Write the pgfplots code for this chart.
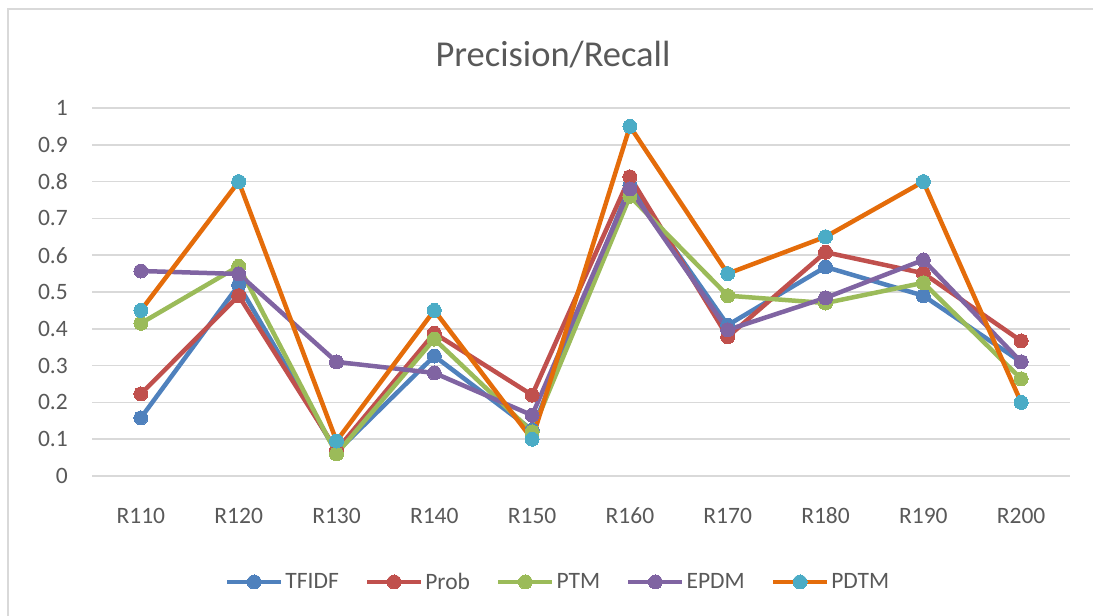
\documentclass[border=0pt]{standalone}
\usepackage{fontspec}
\setmainfont{Carlito}
\usepackage{pgfplots}
\pgfplotsset{compat=1.18}
\definecolor{cTF}{HTML}{4F81BD}
\definecolor{cPR}{HTML}{C0504D}
\definecolor{cPT}{HTML}{9BBB59}
\definecolor{cEP}{HTML}{8064A2}
\definecolor{cPD}{HTML}{E46C0A}
\definecolor{cPDm}{HTML}{4BACC6}
\definecolor{gridc}{HTML}{D9D9D9}
\definecolor{txt}{HTML}{595959}
\pgfplotsset{ser/.style 2 args={color=#1, line width=4.5bp, mark=*, mark size=7bp, mark options={fill=#2, draw=#2, line width=0pt}}}
\begin{document}
\begin{tikzpicture}[x=1bp,y=1bp]
\useasboundingbox (0,0) rectangle (1093,616);
\draw[color=gridc, line width=1.5bp] (8,-5) -- (8,607) -- (1100,607);
\node[anchor=base, text=txt, inner sep=0pt, font=\fontsize{36.5bp}{44bp}\selectfont] at (553,549) {Precision/Recall};
\begin{axis}[
  at={(92bp,140bp)}, anchor=south west,
  scale only axis, width=978bp, height=368bp,
  xmin=-0.5, xmax=9.5, ymin=0, ymax=1,
  axis line style={draw=none},
  major tick length=0pt,
  ymajorgrids, grid style={color=gridc, line width=1.5bp},
  ytick={0,0.1,0.2,0.3,0.4,0.5,0.6,0.7,0.8,0.9,1},
  yticklabels={0,0.1,0.2,0.3,0.4,0.5,0.6,0.7,0.8,0.9,1},
  xtick={0,1,2,3,4,5,6,7,8,9},
  xticklabels={R110,R120,R130,R140,R150,R160,R170,R180,R190,R200},
  ticklabel style={text=txt, font=\fontsize{23.5bp}{28bp}\selectfont, inner sep=0pt},
  yticklabel style={anchor=east, xshift=-24bp},
  xticklabel style={anchor=base, yshift=-48bp},
  clip=false,
  legend columns=5,
  legend style={at={(0.4765,-0.288)}, anchor=center, draw=none, fill=none,
    font=\fontsize{23.5bp}{28bp}\selectfont, text=txt,
    nodes={inner sep=2bp},
    /tikz/every even column/.append style={column sep=24bp}},
  legend image code/.code={\draw[mark repeat=2,mark phase=2,#1] plot coordinates {(0bp,0bp) (27bp,0bp) (54bp,0bp)};},
]
\addplot[ser={cTF}{cTF}] coordinates {(0,0.158) (1,0.519) (2,0.065) (3,0.326) (4,0.125) (5,0.79) (6,0.41) (7,0.568) (8,0.49) (9,0.31)};
\addlegendentry{TFIDF}
\addplot[ser={cPR}{cPR}] coordinates {(0,0.223) (1,0.49) (2,0.07) (3,0.388) (4,0.22) (5,0.813) (6,0.378) (7,0.608) (8,0.551) (9,0.367)};
\addlegendentry{Prob}
\addplot[ser={cPT}{cPT}] coordinates {(0,0.415) (1,0.57) (2,0.06) (3,0.372) (4,0.12) (5,0.76) (6,0.49) (7,0.47) (8,0.525) (9,0.264)};
\addlegendentry{PTM}
\addplot[ser={cEP}{cEP}] coordinates {(0,0.557) (1,0.549) (2,0.31) (3,0.28) (4,0.165) (5,0.78) (6,0.397) (7,0.484) (8,0.587) (9,0.31)};
\addlegendentry{EPDM}
\addplot[ser={cPD}{cPDm}] coordinates {(0,0.45) (1,0.8) (2,0.095) (3,0.45) (4,0.1) (5,0.95) (6,0.55) (7,0.65) (8,0.8) (9,0.2)};
\addlegendentry{PDTM}
\end{axis}
\end{tikzpicture}
\end{document}
